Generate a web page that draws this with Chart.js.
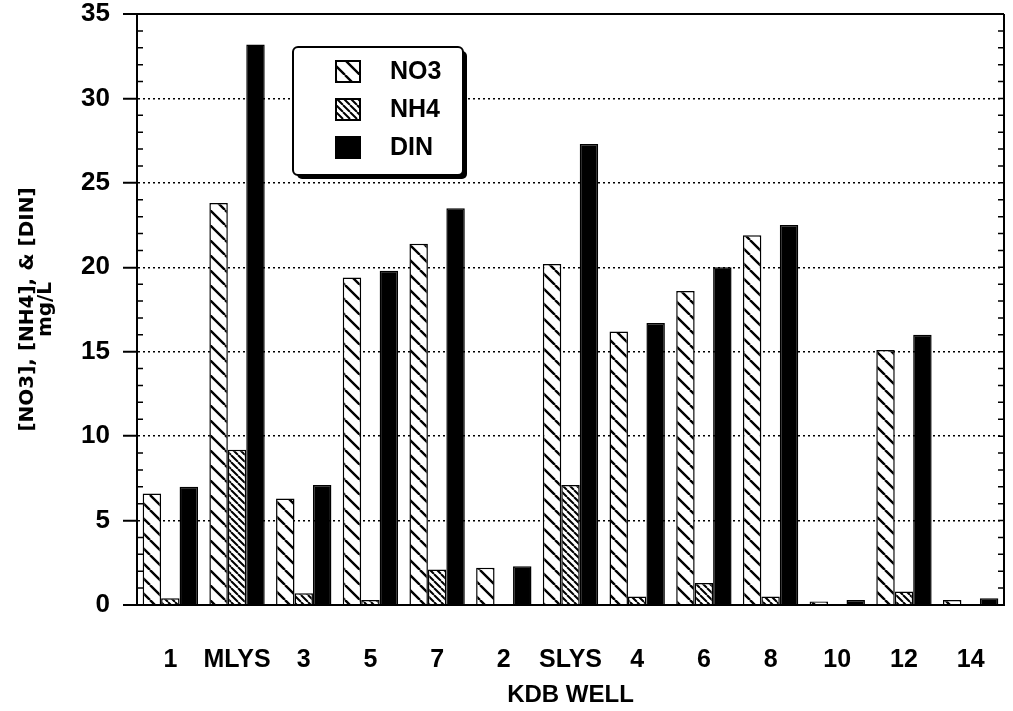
<!DOCTYPE html>
<html>
<head>
<meta charset="utf-8">
<script src="https://cdn.jsdelivr.net/npm/chart.js@4.4.0/dist/chart.umd.min.js"></script>
<style>
  html, body { margin: 0; padding: 0; background: #fff; }
  #wrap { width: 1013px; height: 711px; }
</style>
</head>
<body>
<div id="wrap"><canvas id="well-chart" width="1013" height="711"></canvas></div>
<script>
// well names along the x axis
const WELLS = ['1', 'MLYS', '3', '5', '7', '2', 'SLYS', '4', '6', '8', '10', '12', '14'];
// concentrations in mg/L
const NO3 = [6.6, 23.8, 6.3, 19.4, 21.4, 2.2, 20.2, 16.2, 18.6, 21.9, 0.2, 15.1, 0.3];
const NH4 = [0.4, 9.2, 0.7, 0.3, 2.1, 0.0, 7.1, 0.5, 1.3, 0.5, 0.0, 0.8, 0.0];
const DIN = [7.0, 33.2, 7.1, 19.8, 23.5, 2.3, 27.3, 16.7, 20.0, 22.5, 0.3, 16.0, 0.4];
const SERIES = ['NO3', 'NH4', 'DIN'];
const Y_MAX = 35;
const Y_STEP = 5;

const FONT = "'Liberation Sans', Arial, Helvetica, sans-serif";
Chart.defaults.font.family = FONT;
Chart.defaults.color = '#000';

const canvas = document.getElementById('well-chart');
const mainCtx = canvas.getContext('2d');

/**
 * "\" hatch pattern on white
 */
function hatch(period, width) {
    const c = document.createElement('canvas');
    c.width = period;
    c.height = period;
    const g = c.getContext('2d');
    g.fillStyle = '#fff';
    g.fillRect(0, 0, period, period);
    g.strokeStyle = '#000';
    g.lineWidth = width;
    g.beginPath();
    for (let k = -1; k <= 1; k++) {
        g.moveTo(k * period, 0);
        g.lineTo(k * period + period, period);
    }
    g.stroke();
    return mainCtx.createPattern(c, 'repeat');
}

const fills = [hatch(15, 2.4), hatch(7, 2), '#000'];

// minor ticks + right frame
const framePlugin = {
    id: 'frame',
    afterDraw(chart) {
        const { ctx, chartArea: a, scales: { y } } = chart;
        ctx.save();
        ctx.strokeStyle = '#000';
        ctx.lineWidth = 1.5;
        ctx.beginPath();
        for (let v = 1; v < Y_MAX; v++) {
            const py = y.getPixelForValue(v);
            if (v % Y_STEP) {
                ctx.moveTo(a.left, py);
                ctx.lineTo(a.left + 6, py);
            }
            ctx.moveTo(a.right, py);
            ctx.lineTo(a.right - 6, py);
        }
        ctx.stroke();
        ctx.lineWidth = 2;
        ctx.beginPath();
        ctx.moveTo(a.right, a.top);
        ctx.lineTo(a.right, a.bottom);
        ctx.stroke();
        ctx.restore();
    }
};

// boxed legend with drop shadow, inside the plot
const legendPlugin = {
    id: 'boxLegend',
    afterDraw(chart) {
        const ctx = chart.ctx;
        const x = 293, y = 47, w = 170, h = 128;
        ctx.save();
        ctx.fillStyle = '#000';
        ctx.beginPath();
        ctx.roundRect(x + 4, y + 4, w, h, 5);
        ctx.fill();
        ctx.fillStyle = '#fff';
        ctx.strokeStyle = '#000';
        ctx.lineWidth = 2;
        ctx.beginPath();
        ctx.roundRect(x, y, w, h, 5);
        ctx.fill();
        ctx.stroke();

        ctx.font = 'bold 25px ' + FONT;
        ctx.textBaseline = 'middle';
        chart.data.datasets.forEach((ds, i) => {
            const cy = 71 + i * 38;
            ctx.fillStyle = ds.backgroundColor;
            ctx.fillRect(336, cy - 10, 24, 21);
            ctx.lineWidth = 2;
            ctx.strokeRect(336, cy - 10, 24, 21);
            ctx.fillStyle = '#000';
            ctx.fillText(ds.label, 390, cy + 1);
        });
        ctx.restore();
    }
};

const data = {
    labels: WELLS,
    datasets: [NO3, NH4, DIN].map((vals, i) => ({
        label: SERIES[i],
        data: vals,
        backgroundColor: fills[i],
        borderColor: '#000',
        borderWidth: 1.5,
        categoryPercentage: 0.83,
        barPercentage: 1.0,
    })),
};

const config = {
    type: 'bar',
    data: data,
    options: {
        responsive: false,
        animation: false,
        layout: { padding: { top: 0, right: 9, bottom: 0, left: 0 } },
        plugins: {
            legend: { display: false },
            tooltip: { enabled: false },
        },
        scales: {
            x: {
                grid: { display: false },
                border: { display: true, color: '#000', width: 2 },
                ticks: {
                    font: { size: 25, weight: 'bold' },
                    padding: 32,
                    maxRotation: 0,
                    autoSkip: false,
                },
                title: {
                    display: true,
                    text: 'KDB WELL',
                    font: { size: 24, weight: 'bold' },
                    padding: { top: 0, bottom: 1 },
                },
                afterFit(s) {
                    s.height = 106;
                    s.paddingLeft = 0;
                    s.paddingRight = 0;
                },
            },
            y: {
                min: 0,
                max: Y_MAX,
                ticks: {
                    stepSize: Y_STEP,
                    font: { size: 26, weight: 'bold', lineHeight: 1.0 },
                    padding: 13,
                },
                grid: {
                    color: '#000',
                    tickColor: '#000',
                    tickLength: 14,
                    tickWidth: 2,
                    lineWidth: function(context) {
                        const v = context.tick.value;
                        return (v === 0 || v === Y_MAX) ? 2 : 1.5;
                    },
                },
                border: {
                    display: true,
                    color: '#000',
                    width: 2,
                    dash: function(context) {
                        const v = context.tick ? context.tick.value : 0;
                        return (v === 0 || v === Y_MAX) ? [] : [2, 3];
                    },
                },
                title: {
                    display: true,
                    text: ['[NO3], [NH4], & [DIN]', 'mg/L'],
                    font: { family: "'DejaVu Sans', sans-serif", size: 20, weight: 'bold', lineHeight: 0.9 },
                    padding: { top: 19, bottom: 0 },
                },
                afterFit(s) {
                    s.width = 137;
                    s.paddingTop = 14;
                    s.paddingBottom = 0;
                },
            },
        },
    },
    plugins: [framePlugin, legendPlugin],
};

const myChart = new Chart(canvas, config);
</script>
</body>
</html>
